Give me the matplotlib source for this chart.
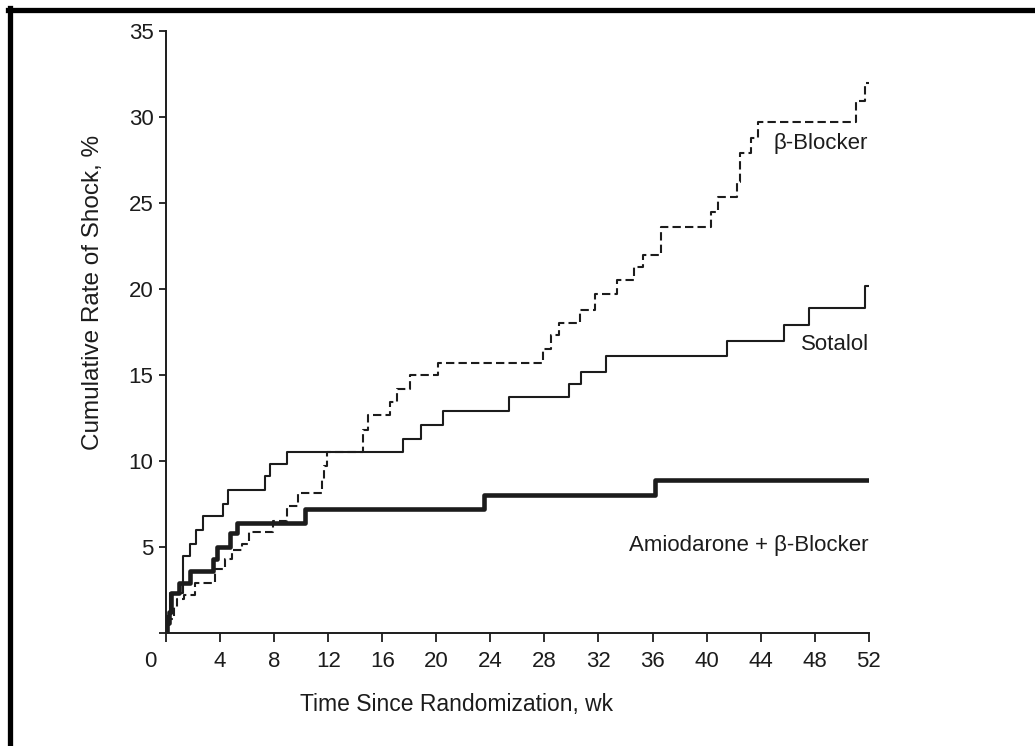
import matplotlib
matplotlib.use("Agg")
import matplotlib.pyplot as plt
import matplotlib.transforms as mtransforms
from matplotlib.lines import Line2D

# step change points (weeks, cumulative %)
sotalol_wk = [0, 0.05, 0.3, 1.28, 1.78, 2.2, 2.76, 4.19, 4.56, 7.33, 7.7, 8.93,
              17.57, 18.9, 20.5, 25.4, 29.8, 30.7, 32.57, 41.5, 45.74, 47.57, 51.69, 52]
sotalol_pct = [0, 1.0, 2.3, 4.5, 5.2, 6.0, 6.8, 7.5, 8.3, 9.1, 9.8, 10.5,
               11.3, 12.1, 12.9, 13.7, 14.5, 15.2, 16.1, 17.0, 17.9, 18.9, 20.2, 20.2]

bb_wk = [0, 0.15, 0.6, 0.8, 1.3, 2.15, 3.63, 4.37, 4.9, 5.6, 6.14, 7.94, 8.93, 9.79,
         11.52, 11.7, 11.9, 14.6, 14.98, 16.58, 17.08, 18.06, 20.16, 27.88, 28.47,
         29.11, 30.64, 31.75, 33.4, 34.64, 35.33, 36.64, 40.34, 40.88, 42.24, 42.5,
         43.3, 43.84, 51.02, 51.69, 52]
bb_pct = [0, 0.8, 1.5, 2.0, 2.2, 2.9, 3.7, 4.3, 4.8, 5.2, 5.85, 6.5, 7.4, 8.15,
          8.9, 9.7, 10.5, 11.8, 12.65, 13.4, 14.2, 15.0, 15.7, 16.5, 17.3,
          18.0, 18.8, 19.7, 20.5, 21.3, 22.0, 23.6, 24.5, 25.35, 26.2, 27.9,
          28.8, 29.7, 30.9, 32.0, 32.0]

amio_wk = [0, 0.1, 0.25, 0.4, 0.99, 1.78, 3.5, 3.75, 4.74, 5.28, 10.29, 23.5, 36.2, 52]
amio_pct = [0, 0.6, 1.2, 2.3, 2.9, 3.6, 4.3, 5.0, 5.8, 6.4, 7.2, 8.0, 8.9, 8.9]

x_ticks = list(range(0, 53, 4))
y_ticks = [0, 5, 10, 15, 20, 25, 30, 35]
y_ticklabels = ["", "5", "10", "15", "20", "25", "30", "35"]

plt.rcParams["font.family"] = ["Liberation Sans", "DejaVu Sans"]
ink = "#1c1c1c"

fig = plt.figure(figsize=(10.35, 7.46), dpi=100)
ax = fig.add_axes([0.1604, 0.1515, 0.679, 0.807])

ax.step(sotalol_wk, sotalol_pct, where="post", color=ink, lw=1.5)
ax.step(bb_wk, bb_pct, where="post", color=ink, lw=1.5, dashes=(4, 2))
ax.step(amio_wk, amio_pct, where="post", color=ink, lw=3.3)

ax.set_xlim(0, 52)
ax.set_ylim(0, 35)
for s in ["top", "right"]:
    ax.spines[s].set_visible(False)
for s in ["left", "bottom"]:
    ax.spines[s].set_linewidth(1.4)
    ax.spines[s].set_color(ink)

ax.set_xticks(x_ticks)
ax.set_yticks(y_ticks)
ax.set_yticklabels(y_ticklabels)
ax.tick_params(axis="x", length=6.5, width=1.3, pad=6.5, labelsize=16, colors=ink)
ax.tick_params(axis="y", length=5, width=1.3, pad=4, labelsize=16, colors=ink)

# the "0" sits left of the origin
zero_lbl = ax.xaxis.get_major_ticks()[0].label1
zero_lbl.set_transform(zero_lbl.get_transform()
                       + mtransforms.ScaledTranslation(-0.16, 0, fig.dpi_scale_trans))

ax.set_xlabel("Time Since Randomization, wk", fontsize=16.5, color=ink)
ax.xaxis.set_label_coords(0.414, -0.10)
ax.set_ylabel("Cumulative Rate of Shock, %", fontsize=17.5, color=ink)
ax.yaxis.set_label_coords(-0.088, 0.565)

ax.text(51.9, 28.45, "β-Blocker", ha="right", va="center", fontsize=16, color=ink)
ax.text(52, 16.8, "Sotalol", ha="right", va="center", fontsize=16, color=ink)
ax.text(52, 5.1, "Amiodarone + β-Blocker", ha="right", va="center", fontsize=16, color=ink)

# black frame on top and left edges
fig.add_artist(Line2D([0.0078, 1.0], [0.9862, 0.9862], transform=fig.transFigure,
                      color="black", lw=3.8, solid_capstyle="projecting"))
fig.add_artist(Line2D([0.0101, 0.0101], [0.0, 0.989], transform=fig.transFigure,
                      color="black", lw=3.8, solid_capstyle="projecting"))

fig.savefig("out.png", dpi=100, facecolor="white")
